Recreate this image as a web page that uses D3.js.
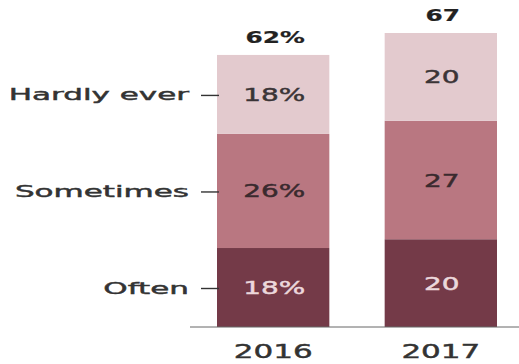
<!DOCTYPE html>
<html>
<head>
<meta charset="utf-8">
<script src="https://cdn.jsdelivr.net/npm/d3@7"></script>
<style>
  body { margin: 0; background: #fff; }
  text { font-family: "DejaVu Sans", sans-serif; fill: #333; }
</style>
</head>
<body>
<script>
// Data
const years = ["2016", "2017"];
const categories = ["Often", "Sometimes", "Hardly ever"];
const often = [18, 20];
const sometimes = [26, 27];
const hardlyEver = [18, 20];
const totals = [62, 67];
const segLabels2016 = ["18%", "26%", "18%"];

const w = 519;
const h = 364;
const sx = 1.55; // reference text is stretched wide

const colors = { "Often": "#743a48", "Sometimes": "#b97781", "Hardly ever": "#e3cace" };
const textColors = { "Often": "#ecd8dc", "Sometimes": "#3a2a2e", "Hardly ever": "#3a3436" };

let svg = d3.select("body")
    .append("svg")
        .attr("width", w)
        .attr("height", h);

let x = d3.scaleBand()
    .domain(years)
    .range([217, 497])
    .paddingInner(0.33)
    .paddingOuter(0);

let y = d3.scaleLinear()
    .domain([0, 67])
    .range([327, 33]);

// build rows for stacking
let rows = years.map((yr, i) => ({
    year: yr,
    "Often": often[i],
    "Sometimes": sometimes[i],
    "Hardly ever": hardlyEver[i]
}));

let stack = d3.stack().keys(categories)(rows);

// helper for wide text
function wideText(g, tx, ty, str, size, weight, fill, anchor, stretch) {
    return g.append("text")
        .attr("transform", "translate(" + tx + "," + ty + ") scale(" + (stretch || sx) + ",1)")
        .attr("text-anchor", anchor || "middle")
        .attr("font-size", size)
        .attr("font-weight", weight || "normal")
        .style("fill", fill || "#333")
        .style("stroke", fill || "#333")
        .style("stroke-width", weight === "bold" ? 0.2 : 0.45)
        .text(str);
}

// bars
let layers = svg.selectAll("g.layer")
    .data(stack)
    .enter()
    .append("g")
        .attr("class", "layer")
        .attr("fill", (d) => colors[d.key]);

layers.selectAll("rect")
    .data((d) => d)
    .enter()
    .append("rect")
        .attr("x", (d) => x(d.data.year))
        .attr("y", (d) => y(d[1]))
        .attr("width", x.bandwidth())
        .attr("height", (d) => y(d[0]) - y(d[1]));

// segment labels
stack.forEach((layer, li) => {
    layer.forEach((d, i) => {
        let val = d[1] - d[0];
        let label = i === 0 ? segLabels2016[li] : String(val);
        let cy = (y(d[0]) + y(d[1])) / 2;
        wideText(svg, x(d.data.year) + x.bandwidth() / 2 + 1, cy + 6.5, label, 18, "normal", textColors[layer.key]);
    });
});

// totals
totals.forEach((t, i) => {
    let str = i === 0 ? t + "%" : String(t);
    wideText(svg, x(years[i]) + x.bandwidth() / 2 + 2, y(t) - 12, str, 16, "bold", "#222");
});

// category labels on the left (aligned with 2016 bar segments)
stack.forEach((layer) => {
    let d = layer[0];
    let cy = (y(d[0]) + y(d[1])) / 2;
    wideText(svg, 189, cy + 6, layer.key, 16.5, "normal", "#333", "end", 1.88);
    svg.append("line")
        .attr("x1", 201).attr("x2", 219)
        .attr("y1", cy + 1).attr("y2", cy + 1)
        .attr("stroke", "#333")
        .attr("stroke-width", 1.4);
});

// baseline
svg.append("line")
    .attr("x1", 190).attr("x2", w)
    .attr("y1", y(0)).attr("y2", y(0))
    .attr("stroke", "#666")
    .attr("stroke-width", 1);

// year axis labels
svg.append("g")
    .attr("class", "x axis")
    .attr("transform", "translate(0," + y(0) + ")")
    .call(d3.axisBottom(x).tickSize(0).tickPadding(0))
    .call((g) => g.select(".domain").remove())
    .call((g) => g.selectAll(".tick text").remove())
    .call((g) => g.selectAll(".tick").each(function(d) {
        wideText(d3.select(this), 0, 31, d, 20, "normal", "#333");
    }));
</script>
</body>
</html>
